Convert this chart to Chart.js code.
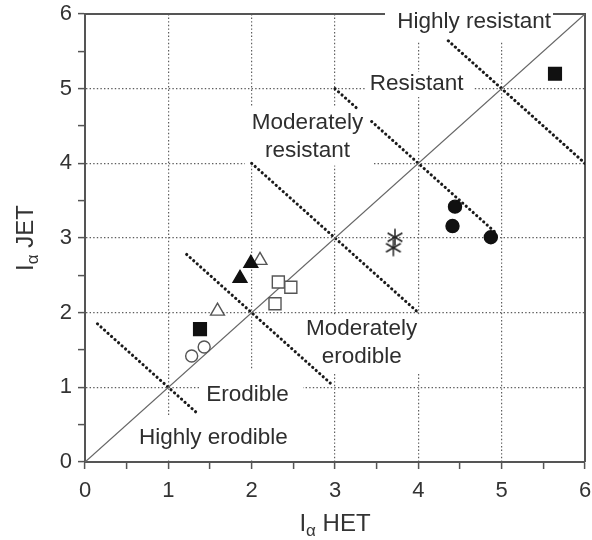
<!DOCTYPE html>
<html>
<head>
<meta charset="utf-8">
<script src="https://cdn.jsdelivr.net/npm/chart.js@4.4.1/dist/chart.umd.min.js"></script>
<style>
  html, body { margin: 0; padding: 0; background: #fff; }
</style>
</head>
<body>
<canvas id="erodChart" width="592" height="540"></canvas>
<script>
// points (I_alpha HET, I_alpha JET)
const filledSquareX = [1.38, 5.64];
const filledSquareY = [1.78, 5.20];
const openCircleX = [1.28, 1.43];
const openCircleY = [1.42, 1.54];
const openTriangleX = [1.59, 2.10];
const openTriangleY = [2.02, 2.70];
const filledTriangleX = [1.86, 1.99];
const filledTriangleY = [2.46, 2.66];
const openSquareX = [2.28, 2.32, 2.47];
const openSquareY = [2.12, 2.41, 2.34];
const asteriskX = [3.70, 3.72];
const asteriskY = [2.87, 3.01];
const filledCircleX = [4.44, 4.41, 4.87];
const filledCircleY = [3.42, 3.16, 3.01];

// class boundaries (x + y = const), split where the labels sit
const boundaryX = [[0.15, 1.33], [1.22, 2.95], [2, 4], [3, 3.27], [3.44, 4.95], [4.36, 6]];
const boundaryY = [[1.85, 0.67], [2.78, 1.05], [4, 2], [5, 4.73], [4.56, 3.05], [5.64, 4]];
const oneToOneX = [0, 6];
const oneToOneY = [0, 6];

const majorTicks = [0, 1, 2, 3, 4, 5, 6];

// zone names, with a white box behind each one
const zones = [
  {text: ['Highly resistant'], at: [4.67, 5.89], box: [3.60, 6.4, 5.616, 5.625]},
  {text: ['Resistant'], at: [3.98, 5.07], box: [3.36, 5.223, 4.656, 4.888]},
  {text: ['Moderately', 'resistant'], at: [2.67, 4.35], box: [1.92, 4.754, 3.444, 3.971]},
  {text: ['Moderately', 'erodible'], at: [3.32, 1.59], box: [2.568, 1.975, 4.08, 1.205]},
  {text: ['Erodible'], at: [1.95, 0.90], box: [1.38, 1.232, 2.616, 0.56]},
  {text: ['Highly erodible'], at: [1.54, 0.33], box: [0.6, 0.603, 2.484, 0.027]}
];

const FONT = '"Liberation Sans", Arial, sans-serif';
const pts = (xs, ys) => xs.map((x, i) => ({x: x, y: ys[i]}));

// six-spoke asterisk marker
const star = document.createElement('canvas');
star.width = 20; star.height = 20;
(function () {
  const c = star.getContext('2d');
  c.strokeStyle = '#222';
  c.lineWidth = 1.5;
  c.translate(10, 10);
  for (let k = 0; k < 3; k++) {
    const a = Math.PI / 2 + k * Math.PI / 3;
    c.beginPath();
    c.moveTo(Math.cos(a) * 8.5, Math.sin(a) * 8.5);
    c.lineTo(-Math.cos(a) * 8.5, -Math.sin(a) * 8.5);
    c.stroke();
  }
})();

function marker(xs, ys, style, r, fill, edge) {
  return {
    data: pts(xs, ys),
    pointStyle: style,
    pointRadius: r,
    backgroundColor: fill,
    borderColor: edge,
    borderWidth: 1.4,
    showLine: false,
    order: 0
  };
}

const datasets = [
  marker(filledSquareX, filledSquareY, 'rect', 9, '#111', '#111'),
  marker(openSquareX, openSquareY, 'rect', 8.5, '#fff', '#555'),
  marker(filledCircleX, filledCircleY, 'circle', 6.5, '#111', '#111'),
  marker(openCircleX, openCircleY, 'circle', 6, '#fff', '#555'),
  marker(filledTriangleX, filledTriangleY, 'triangle', 8, '#111', '#111'),
  marker(openTriangleX, openTriangleY, 'triangle', 8, '#fff', '#555'),
  marker(asteriskX, asteriskY, star, 8, '#222', '#222'),
  {
    data: pts(oneToOneX, oneToOneY),
    showLine: true, pointRadius: 0,
    borderColor: '#666', borderWidth: 1.3,
    order: 1
  }
];
boundaryX.forEach((xs, i) => {
  datasets.push({
    data: pts(xs, boundaryY[i]),
    showLine: true, pointRadius: 0,
    borderColor: '#1a1a1a', borderWidth: 3.1,
    borderDash: [0.1, 4.6], borderCapStyle: 'round',
    order: 1
  });
});

function gridColor(c) {
  const v = c.tick ? c.tick.value : 0;
  return (Number.isInteger(v) && v > 0 && v < 6) ? '#5e5e5e' : 'rgba(0,0,0,0)';
}

function axis(extra, pad) {
  return Object.assign({
    type: 'linear', min: 0, max: 6,
    ticks: {
      stepSize: 0.5, autoSkip: false, maxRotation: 0, padding: pad,
      color: '#333', font: {family: FONT, size: 22},
      callback: v => majorTicks.includes(v) ? String(v) : ''
    },
    grid: {color: gridColor, lineWidth: 1.2, tickColor: '#555', tickLength: 7, tickWidth: 1.5},
    border: {color: '#555', width: 2, dash: [1.4, 2.2]}
  }, extra);
}

// rich text for I with subscript alpha
function drawTitle(ctx, cx, cy, rot, rest) {
  const parts = [
    {t: 'I', f: '24px ' + FONT, dy: 0},
    {t: '\u03b1', f: '17px ' + FONT, dy: 5},
    {t: rest, f: '24px ' + FONT, dy: 0}
  ];
  ctx.save();
  ctx.translate(cx, cy);
  ctx.rotate(rot);
  ctx.fillStyle = '#333';
  ctx.textBaseline = 'alphabetic';
  ctx.textAlign = 'left';
  let total = 0;
  parts.forEach(p => { ctx.font = p.f; p.w = ctx.measureText(p.t).width; total += p.w; });
  let pos = -total / 2;
  parts.forEach(p => { ctx.font = p.f; ctx.fillText(p.t, pos, p.dy); pos += p.w; });
  ctx.restore();
}

const zonePlugin = {
  id: 'zones',
  beforeDatasetsDraw(chart) {
    const {ctx, chartArea: a, scales: {x, y}} = chart;
    ctx.save();
    // top and right frame
    ctx.strokeStyle = '#555';
    ctx.lineWidth = 2;
    ctx.beginPath();
    ctx.moveTo(a.left, a.top);
    ctx.lineTo(a.right, a.top);
    ctx.lineTo(a.right, a.bottom);
    ctx.stroke();

    zones.forEach(z => {
      const x1 = x.getPixelForValue(z.box[0]), y1 = y.getPixelForValue(z.box[1]);
      const x2 = x.getPixelForValue(z.box[2]), y2 = y.getPixelForValue(z.box[3]);
      ctx.fillStyle = '#fff';
      ctx.fillRect(x1, y1, x2 - x1, y2 - y1);
      ctx.fillStyle = '#2e2e2e';
      ctx.font = '22.5px ' + FONT;
      ctx.textAlign = 'center';
      ctx.textBaseline = 'middle';
      const cx = x.getPixelForValue(z.at[0]);
      const cy = y.getPixelForValue(z.at[1]);
      const lh = 28;
      z.text.forEach((t, i) => {
        ctx.fillText(t, cx, cy + (i - (z.text.length - 1) / 2) * lh);
      });
    });
    ctx.restore();
  },
  afterDraw(chart) {
    const {ctx, chartArea: a} = chart;
    drawTitle(ctx, (a.left + a.right) / 2, 531, 0, ' HET');
    drawTitle(ctx, 32.5, (a.top + a.bottom) / 2, -Math.PI / 2, ' JET');
  }
};

new Chart(document.getElementById('erodChart'), {
  type: 'scatter',
  data: {datasets: datasets},
  options: {
    responsive: false,
    animation: false,
    layout: {autoPadding: false, padding: {top: 14, right: 7, left: 0, bottom: 0}},
    plugins: {legend: {display: false}, tooltip: {enabled: false}},
    scales: {
      x: axis({position: 'bottom', afterFit: s => {
        s.height = 78; s.paddingLeft = 0; s.paddingRight = 0;
      }}, 9),
      y: axis({position: 'left', afterFit: s => {
        s.width = 85; s.paddingTop = 0; s.paddingBottom = 0;
      }}, 6)
    }
  },
  plugins: [zonePlugin]
});
</script>
</body>
</html>
